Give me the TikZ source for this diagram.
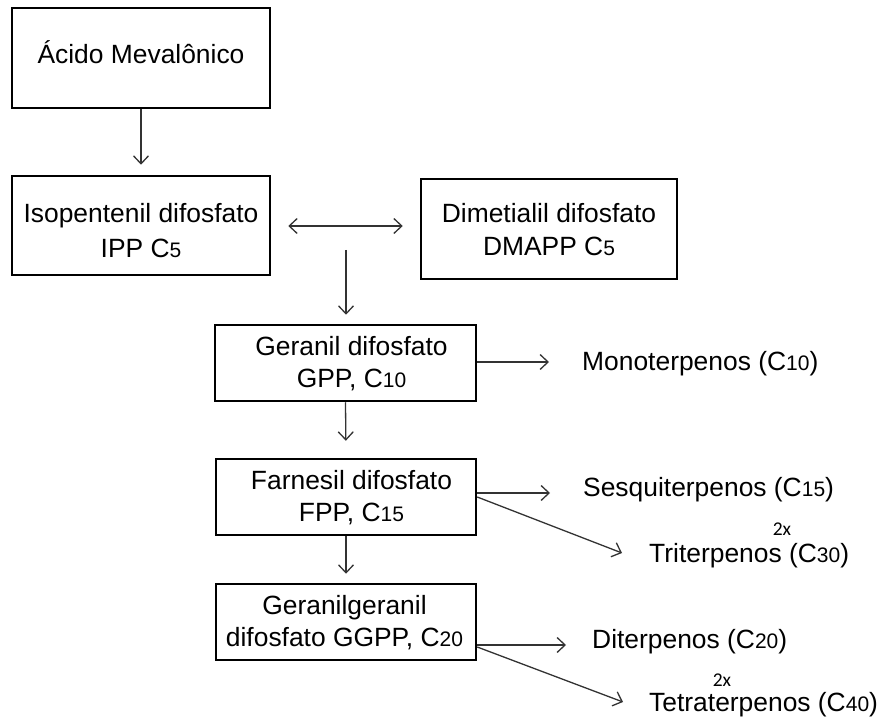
\documentclass[tikz,border=0pt]{standalone}
\usepackage{fontspec}
\setmainfont{Liberation Sans}
\newfontfamily\carl{Carlito}
\usetikzlibrary{arrows.meta}
\newcommand{\dg}[1]{{\fontsize{21}{21}\selectfont #1}}
\begin{document}
\begin{tikzpicture}[x=1pt,y=-1pt,
  box/.style={draw=black, line width=2.5pt, inner sep=0pt},
  txt/.style={inner sep=0pt, align=center, font=\fontsize{26.4}{32}\selectfont},
  prod/.style={inner sep=0pt, anchor=west, font=\fontsize{26.4}{32}\selectfont},
  twox/.style={inner sep=0pt, font=\carl\fontsize{19.5}{20}\selectfont},
  arr/.style={draw=black!80, line width=1.3pt, -{Straight Barb[length=8pt,width=15pt]}},
  darr/.style={draw=black!80, line width=1.3pt, {Straight Barb[length=8pt,width=15pt]}-{Straight Barb[length=8pt,width=15pt]}}]
\useasboundingbox (0,0) rectangle (881,719);
% boxes
\node[box, minimum width=258pt, minimum height=100pt] (ama) at (141,58) {};
\node[txt] (amat) at (141,52) {Ácido Mevalônico};
\node[box, minimum width=258pt, minimum height=99pt] (ipp) at (141,225.5) {};
\node[txt, font=\fontsize{26.4}{35}\selectfont] (ippt) at (141,231) {Isopentenil difosfato\\IPP C\dg{5}};
\node[box, minimum width=256pt, minimum height=100pt] (dma) at (549,229) {};
\node[txt, font=\fontsize{26.4}{33}\selectfont] (dmat) at (549,230) {Dimetialil difosfato\\DMAPP C\dg{5}};
\node[box, minimum width=261pt, minimum height=76pt] (gpp) at (345.5,363) {};
\node[txt] (gppt) at (351.5,364) {Geranil difosfato\\GPP, C\dg{10}};
\node[box, minimum width=260pt, minimum height=76pt] (fpp) at (346,497) {};
\node[txt] (fppt) at (351.5,498) {Farnesil difosfato\\FPP, C\dg{15}};
\node[box, minimum width=260pt, minimum height=76pt] (ggpp) at (346,622) {};
\node[txt] (ggppt) at (344.5,623) {Geranilgeranil\\difosfato GGPP, C\dg{20}};
% products
\node[prod] (mono) at (582,364) {Monoterpenos (C\dg{10})};
\node[prod] (sesq) at (583,490) {Sesquiterpenos (C\dg{15})};
\node[prod] (tri) at (649,556) {Triterpenos (C\dg{30})};
\node[prod] (di) at (592,642) {Diterpenos (C\dg{20})};
\node[prod] (tetra) at (649,705) {Tetraterpenos (C\dg{40})};
\node[twox] (x1) at (782,529) {2x};
\node[twox] (x2) at (722,680) {2x};
% connectors
\coordinate (c1) at (346,250);
\draw[arr, shorten >=10pt] (ama.south) -- (ipp.north);
\draw[darr, shorten <=17pt, shorten >=17pt] ([yshift=-0.5pt]ipp.east) -- ([yshift=-0.5pt]ipp.east -| dma.west);
\draw[arr, shorten >=9pt] (c1) -- (c1 |- gpp.north);
\draw[arr, shorten >=33pt] ([yshift=1pt]gpp.east) -- ([yshift=1pt]gpp.east -| mono.west);
\draw[arr, shorten >=17pt] (gpp.south) -- (fpp.north);
\draw[arr, shorten >=9pt] (fpp.south) -- (ggpp.north);
\draw[arr, shorten >=33pt] ([yshift=4pt]fpp.east) -- ([yshift=4pt]fpp.east -| sesq.west);
\draw[arr] (fpp.east) -- ([xshift=-27pt, yshift=3pt]tri.west);
\draw[arr, shorten >=26pt] ([yshift=-23pt]ggpp.east) -- ([yshift=-23pt]ggpp.east -| di.west);
\draw[arr] ([yshift=-25pt]ggpp.east) -- ([xshift=-26pt, yshift=3pt]tetra.west);
\end{tikzpicture}
\end{document}
